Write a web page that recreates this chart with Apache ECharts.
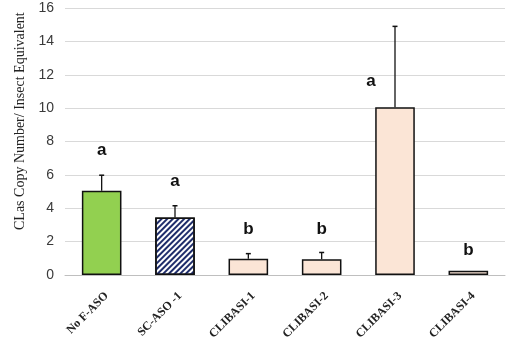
<!DOCTYPE html>
<html><head><meta charset="utf-8">
<script src="https://cdn.jsdelivr.net/npm/echarts@6/dist/echarts.min.js"></script>
<style>html,body{margin:0;padding:0;background:#fff}#c{width:510px;height:344px}</style>
</head><body><div id="c"></div>
<script>
var categories = ['No F-ASO', 'SC-ASO -1', 'CLIBASI-1', 'CLIBASI-2', 'CLIBASI-3', 'CLIBASI-4'];
var values = [5.05, 3.45, 0.98, 0.95, 10.05, 0.25];
var errors = [0.93, 0.7, 0.3, 0.4, 4.85, 0];
var letters = ['a', 'a', 'b', 'b', 'a', 'b'];
var letterAt = [7.45, 5.6, 2.75, 2.75, 11.6, 1.5];
var yTicks = [0, 2, 4, 6, 8, 10, 12, 14, 16];

var chart = echarts.init(document.getElementById('c'));
var barColors = ['#92d050', '#ffffff', '#fbe5d6', '#fbe5d6', '#fbe5d6', '#fbe5d6'];
var barData = values.map(function (v, i) {
  var it = { value: v, itemStyle: { color: barColors[i] } };
  if (i === 1) {
    it.itemStyle.decal = { symbol: 'rect', dashArrayX: [[1, 0]], dashArrayY: [1.6, 1.4], rotation: -Math.PI / 4, color: '#1f2d6b', symbolSize: 1 };
  }
  return it;
});
chart.setOption({
  animation: false,
  grid: { left: 65, right: 5, top: 8, bottom: 69 },
  graphic: [{
    type: 'text', rotation: Math.PI / 2,
    style: { text: 'CLas Copy Number/ Insect Equivalent', font: '14px "Liberation Serif"', fill: '#222' },
    x: 13, y: 230
  }],
  xAxis: {
    type: 'category', data: categories,
    axisLine: { lineStyle: { color: '#bfbfbf', width: 1 } },
    axisTick: { show: false },
    axisLabel: { show: false }
  },
  yAxis: {
    type: 'value', min: 0, max: 16, interval: 2,
    axisLine: { show: false }, axisTick: { show: false },
    splitLine: { lineStyle: { color: '#d9d9d9', width: 1 } },
    axisLabel: { margin: 11, fontFamily: 'Liberation Sans', fontSize: 14, color: '#3a3a3a',
      formatter: function (v) { return yTicks.indexOf(v) >= 0 ? String(v) : ''; } }
  },
  series: [{
    type: 'bar', data: barData, barWidth: '54%',
    itemStyle: { borderColor: '#111', borderWidth: 1.5 }
  }, {
    type: 'custom', z: 5,
    data: values.map(function (v, i) { return [i, v, errors[i]]; }),
    renderItem: function (params, api) {
      var i = api.value(0), v = api.value(1), e = api.value(2);
      if (!e) return null;
      var p0 = api.coord([i, v]), p1 = api.coord([i, v + e]);
      return { type: 'group', children: [
        { type: 'line', shape: { x1: p0[0], y1: p0[1], x2: p1[0], y2: p1[1] }, style: { stroke: '#111', lineWidth: 1.3 } },
        { type: 'line', shape: { x1: p1[0] - 2.5, y1: p1[1], x2: p1[0] + 2.5, y2: p1[1] }, style: { stroke: '#111', lineWidth: 1.5 } }
      ] };
    }
  }, {
    type: 'custom', z: 6,
    data: letterAt.map(function (v, i) { return [i, v]; }),
    renderItem: function (params, api) {
      var i = api.value(0);
      var p = api.coord([i, api.value(1)]);
      var dx = i === 4 ? -24 : 0;
      return { type: 'text', x: p[0] + dx, y: p[1],
        style: { text: letters[i], font: 'bold 17px "Liberation Sans"', fill: '#111', align: 'center', verticalAlign: 'middle' } };
    }
  }, {
    type: 'custom', z: 6, clip: false,
    data: categories.map(function (c, i) { return [i, 0]; }),
    renderItem: function (params, api) {
      var i = api.value(0);
      var p = api.coord([i, 0]);
      return { type: 'text', x: p[0] + 5, y: p[1] + 19, rotation: Math.PI / 4,
        style: { text: categories[i], font: 'bold 12px "Liberation Serif"', fill: '#222', align: 'right', verticalAlign: 'middle' } };
    }
  }]
});
</script></body></html>
